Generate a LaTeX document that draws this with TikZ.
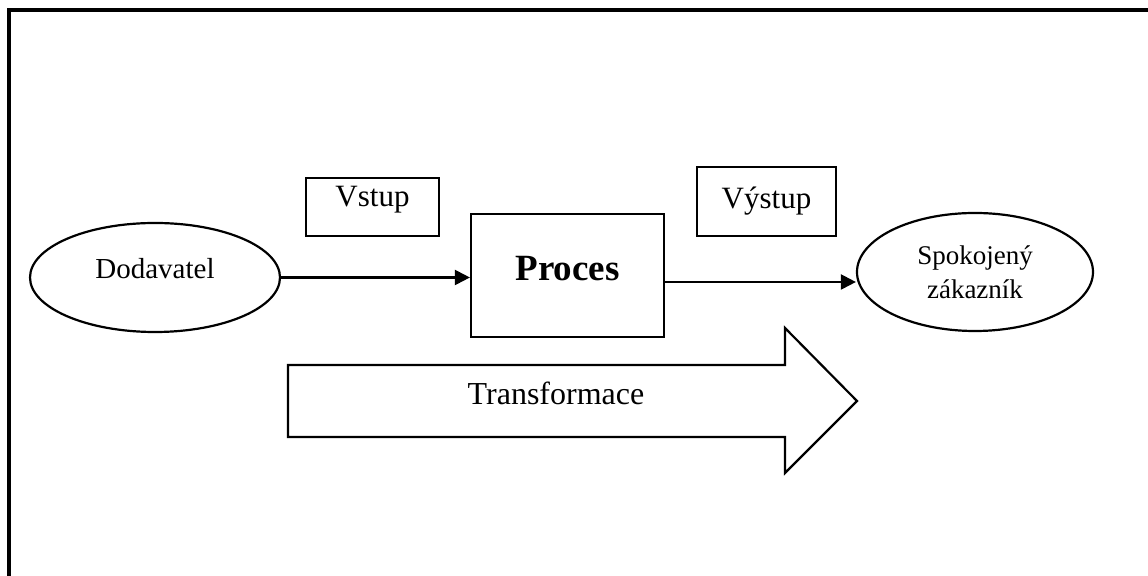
\documentclass[tikz,border=0pt]{standalone}
\usepackage{fontspec}
\setmainfont{Liberation Serif}
\usetikzlibrary{arrows.meta,shapes.geometric}

\begin{document}
\begin{tikzpicture}[x=0.5pt,y=-0.5pt]
    \tikzset{
        framestyle/.style={line width=1.6pt, black},
        partystyle/.style={draw, ellipse, line width=1.1pt, inner sep=0pt},
        boxstyle/.style={draw, rectangle, line width=1.1pt, inner sep=0pt},
        flowstyle/.style={line width=1.1pt, -{Triangle[length=7.5pt,width=7.5pt]}},
        bigarrow/.style={draw, line width=1.1pt, line join=miter}
    }

    \useasboundingbox (0,0) rectangle (1148,576);

    % --- rám: jen horní a levá hrana ---
    \draw[framestyle] (9,576) -- (9,10) -- (1148,10);

    % --- dodavatel a zákazník ---
    \node[partystyle, minimum width=125pt, minimum height=54.5pt,
          label={[yshift=4.5pt, font=\fontsize{14.5}{17}\selectfont]center:Dodavatel}]
        (dodavatel) at (155,277.5) {};
    \node[partystyle, minimum width=118pt, minimum height=59pt,
          align=center, font=\fontsize{13.5}{17}\selectfont]
        (zakaznik) at (975,272) {Spokojený\\zákazník};

    % --- proces ---
    \node[boxstyle, minimum width=96.5pt, minimum height=61.5pt,
          label={[yshift=3.5pt, font=\fontsize{18.5}{22}\selectfont\bfseries]center:Proces}]
        (proces) at (567.5,275.5) {};

    % --- vstup / výstup ---
    \node[boxstyle, minimum width=66.5pt, minimum height=29pt,
          label={[yshift=3.5pt, font=\fontsize{15.5}{18}\selectfont]center:Vstup}]
        (vstup) at (372.5,207) {};
    \node[boxstyle, minimum width=69.5pt, minimum height=34.5pt,
          font=\fontsize{15.5}{18}\selectfont]
        (vystup) at (766.5,201.5) {Výstup};

    % --- toky ---
    \coordinate (tok) at (664,282);
    \draw[flowstyle] (dodavatel.east) -- (dodavatel.east -| proces.west);
    \draw[flowstyle] (proces.east |- tok) -- (zakaznik.west |- tok);

    % --- velká šipka: transformace ---
    \draw[bigarrow] (288,365) -- (785,365) -- (785,328) -- (857,401)
        -- (785,473) -- (785,437) -- (288,437) -- cycle;
    \node[font=\fontsize{16}{19}\selectfont] (transformace) at (556,393) {Transformace};

\end{tikzpicture}
\end{document}
